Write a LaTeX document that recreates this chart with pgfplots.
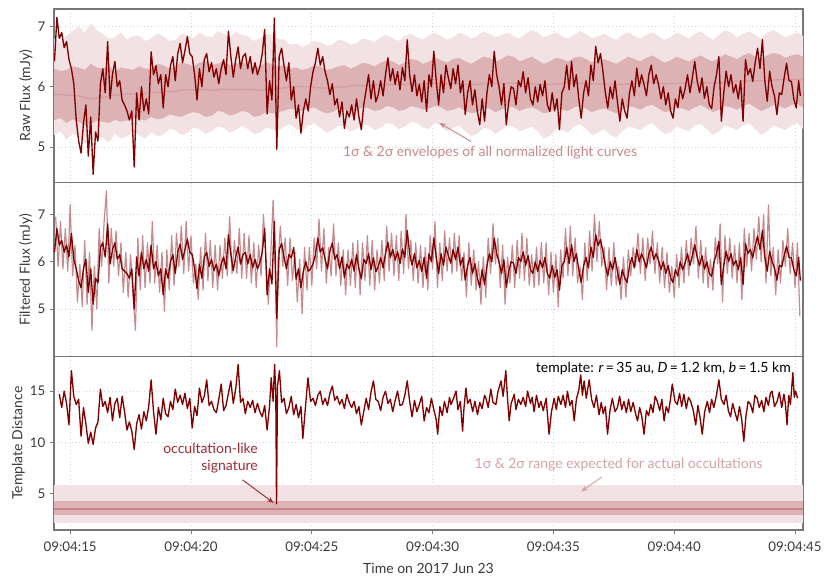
\documentclass[border=0pt]{standalone}
\usepackage{fontspec}
\setmainfont{Lato}
\usepackage{pgfplots}
\usepackage{pgfplotstable}
\pgfplotsset{compat=1.18}
\usepgfplotslibrary{fillbetween}
\usetikzlibrary{calc,arrows.meta}
\definecolor{darkred}{HTML}{800000}
\definecolor{envA}{HTML}{F2E2E3}
\definecolor{envB}{HTML}{DDB2B4}
\definecolor{envMid}{HTML}{D29FA2}
\definecolor{lightline}{HTML}{C48A8E}
\definecolor{annA}{HTML}{C9878B}
\definecolor{annB}{HTML}{D4A2A5}
\definecolor{annC}{HTML}{9E2A33}
\definecolor{axisgray}{HTML}{777777}
\definecolor{gridgray}{HTML}{D4D4D4}
\definecolor{labelgray}{HTML}{3A3A3A}

\pgfplotstableread{
t v
14.35 6.42
14.45 7.15
14.55 6.80
14.65 6.90
14.75 6.65
14.85 6.75
14.95 6.45
15.05 6.30
15.15 6.05
15.25 5.45
15.35 5.10
15.45 4.90
15.55 5.40
15.65 5.70
15.75 4.85
15.85 5.50
15.95 4.55
16.05 5.25
16.15 5.10
16.25 6.05
16.35 6.30
16.45 5.90
16.55 6.75
16.65 5.80
16.75 6.20
16.85 6.42
16.95 6.00
17.05 6.10
17.15 5.78
17.25 5.70
17.35 5.60
17.45 5.45
17.55 5.60
17.65 4.67
17.75 5.90
17.85 5.45
17.95 6.00
18.05 5.60
18.15 5.80
18.25 5.55
18.35 6.58
18.45 6.20
18.55 6.35
18.65 6.05
18.75 6.20
18.85 5.65
18.95 6.20
19.05 6.00
19.15 6.35
19.25 6.50
19.35 6.10
19.45 6.55
19.55 6.72
19.65 6.40
19.75 6.60
19.85 6.83
19.95 6.55
20.05 6.50
20.15 6.20
20.25 5.78
20.35 6.30
20.45 6.00
20.55 6.45
20.65 6.55
20.75 6.25
20.85 6.40
20.95 6.16
21.05 6.30
21.15 6.05
21.25 6.30
21.35 6.45
21.45 6.20
21.55 6.92
21.65 6.50
21.75 6.16
21.85 6.45
21.95 6.66
22.05 6.30
22.15 6.50
22.25 6.55
22.35 6.30
22.45 6.50
22.55 6.22
22.65 6.40
22.75 6.20
22.85 6.33
22.95 6.55
23.05 6.95
23.15 5.55
23.25 6.10
23.35 5.78
23.45 7.14
23.55 4.96
23.65 6.50
23.75 6.64
23.85 6.35
23.95 6.10
24.05 6.40
24.15 5.78
24.25 6.00
24.35 5.48
24.45 5.70
24.55 5.23
24.65 5.60
24.75 5.80
24.85 5.60
24.95 6.00
25.05 6.25
25.15 6.40
25.25 6.64
25.35 6.36
25.45 6.50
25.55 6.25
25.65 6.10
25.75 5.87
25.85 6.05
25.95 5.70
26.05 5.80
26.15 5.50
26.25 5.75
26.35 5.31
26.45 5.60
26.55 5.50
26.65 5.70
26.75 5.45
26.85 5.80
26.95 5.50
27.05 5.29
27.15 5.70
27.25 5.95
27.35 6.20
27.45 5.80
27.55 6.10
27.65 5.75
27.75 5.87
27.85 6.10
27.95 5.85
28.05 6.20
28.15 6.48
28.25 6.10
28.35 6.30
28.45 6.04
28.55 6.25
28.65 5.95
28.75 6.32
28.85 6.10
28.95 6.78
29.05 6.20
29.15 5.92
29.25 6.20
29.35 5.85
29.45 6.04
29.55 5.75
29.65 6.10
29.75 5.59
29.85 6.20
29.95 6.00
30.05 6.59
30.15 6.10
30.25 5.70
30.35 6.20
30.45 5.90
30.55 6.36
30.65 6.15
30.75 5.97
30.85 6.30
30.95 6.05
31.05 6.36
31.15 5.90
31.25 6.10
31.35 5.54
31.45 5.90
31.55 6.10
31.65 5.70
31.75 5.95
31.85 5.60
31.95 5.37
32.05 5.80
32.15 5.43
32.25 5.90
32.35 6.20
32.45 6.00
32.55 6.59
32.65 6.20
32.75 6.00
32.85 5.70
32.95 6.05
33.05 5.37
33.15 5.75
33.25 6.00
33.35 5.97
33.45 5.70
33.55 6.10
33.65 6.00
33.75 6.25
33.85 5.90
33.95 6.15
34.05 5.80
34.15 5.70
34.25 6.00
34.35 5.75
34.45 6.04
34.55 5.85
34.65 6.10
34.75 5.70
34.85 5.59
34.95 5.90
35.05 5.60
35.15 5.80
35.25 5.29
35.35 5.90
35.45 6.00
35.55 6.36
35.65 5.95
35.75 6.42
35.85 6.00
35.95 6.20
36.05 5.80
36.15 5.48
36.25 5.90
36.35 6.10
36.45 5.85
36.55 6.36
36.65 6.10
36.75 6.67
36.85 6.40
36.95 6.55
37.05 6.25
37.15 5.90
37.25 5.65
37.35 6.00
37.45 5.80
37.55 6.10
37.65 5.75
37.75 5.43
37.85 5.80
37.95 5.60
38.05 5.48
38.15 5.90
38.25 6.10
38.35 5.85
38.45 6.31
38.55 6.00
38.65 6.20
38.75 6.04
38.85 5.85
38.95 6.20
39.05 6.36
39.15 6.05
39.25 6.20
39.35 6.04
39.45 5.80
39.55 6.00
39.65 5.70
39.75 5.90
39.85 5.60
39.95 5.48
40.05 5.80
40.15 5.65
40.25 6.00
40.35 5.80
40.45 5.97
40.55 6.20
40.65 5.90
40.75 6.15
40.85 6.42
40.95 6.10
41.05 5.90
41.15 6.15
41.25 5.81
41.35 6.00
41.45 5.70
41.55 5.64
41.65 6.00
41.75 6.20
41.85 6.50
41.95 5.43
42.05 5.90
42.15 6.26
42.25 6.00
42.35 6.20
42.45 5.90
42.55 6.04
42.65 5.80
42.75 6.10
42.85 5.43
42.95 6.45
43.05 6.20
43.15 6.30
43.25 6.09
43.35 6.40
43.45 6.64
43.55 6.30
43.65 6.78
43.75 6.10
43.85 5.76
43.95 6.26
44.05 6.00
44.15 5.85
44.25 5.54
44.35 5.90
44.45 5.87
44.55 6.15
44.65 6.39
44.75 6.10
44.85 6.09
44.95 5.80
45.05 5.65
45.15 6.10
45.22 5.85
}\rawtbl

\pgfplotstableread{
t lo2 lo1 mid hi1 hi2
14.33 5.20 5.45 5.88 6.30 6.80
14.60 5.26 5.48 5.87 6.26 6.74
14.85 5.12 5.40 5.86 6.28 6.85
15.10 5.22 5.46 5.86 6.34 6.92
15.35 5.18 5.42 5.85 6.32 7.00
15.60 5.06 5.36 5.82 6.28 6.90
15.85 5.10 5.38 5.80 6.38 7.05
16.10 5.20 5.44 5.81 6.32 6.94
16.35 5.15 5.42 5.82 6.30 6.88
16.60 5.08 5.40 5.84 6.36 6.80
16.85 5.22 5.45 5.86 6.25 6.82
17.10 5.14 5.42 5.87 6.32 6.90
17.35 5.18 5.44 5.88 6.30 6.78
17.60 5.24 5.48 5.88 6.28 6.84
17.85 5.20 5.46 5.88 6.34 6.85
18.10 5.14 5.44 5.89 6.30 6.76
18.35 5.25 5.50 5.90 6.30 6.80
18.60 5.18 5.46 5.91 6.38 6.88
18.85 5.20 5.48 5.92 6.36 6.84
19.10 5.30 5.54 5.92 6.30 6.76
19.35 5.28 5.52 5.92 6.34 6.78
19.60 5.20 5.50 5.94 6.40 6.88
19.85 5.24 5.55 5.95 6.38 6.86
20.10 5.32 5.58 5.95 6.34 6.80
20.35 5.30 5.56 5.96 6.40 6.90
20.60 5.22 5.50 5.95 6.42 6.84
20.85 5.26 5.52 5.94 6.36 6.82
21.10 5.34 5.60 5.95 6.38 6.92
21.35 5.32 5.58 5.96 6.42 6.88
21.60 5.24 5.52 5.96 6.36 6.80
21.85 5.28 5.55 5.95 6.38 6.92
22.10 5.36 5.60 5.96 6.42 6.86
22.35 5.30 5.58 5.96 6.36 6.84
22.60 5.22 5.50 5.95 6.32 6.76
22.85 5.24 5.52 5.94 6.34 6.80
23.10 5.32 5.58 5.95 6.40 6.88
23.35 5.30 5.56 5.95 6.38 6.86
23.60 5.26 5.58 5.97 6.34 6.80
23.85 5.34 5.60 5.98 6.36 6.78
24.10 5.38 5.64 5.99 6.30 6.70
24.35 5.30 5.62 6.00 6.32 6.72
24.60 5.26 5.60 6.00 6.28 6.66
24.85 5.36 5.64 6.00 6.30 6.70
25.10 5.40 5.66 5.99 6.36 6.76
25.35 5.32 5.60 5.98 6.34 6.74
25.60 5.24 5.56 5.98 6.28 6.68
25.85 5.28 5.58 5.98 6.30 6.70
26.10 5.36 5.64 5.99 6.34 6.78
26.35 5.34 5.62 6.00 6.36 6.76
26.60 5.26 5.58 6.01 6.30 6.70
26.85 5.30 5.60 6.02 6.34 6.72
27.10 5.38 5.66 6.02 6.40 6.80
27.35 5.36 5.64 6.02 6.38 6.78
27.60 5.28 5.60 6.03 6.34 6.74
27.85 5.32 5.62 6.04 6.40 6.82
28.10 5.40 5.68 6.04 6.44 6.86
28.35 5.38 5.66 6.04 6.42 6.80
28.60 5.30 5.60 6.04 6.36 6.76
28.85 5.34 5.62 6.04 6.40 6.84
29.10 5.42 5.68 6.05 6.46 6.88
29.35 5.40 5.66 6.06 6.44 6.82
29.60 5.32 5.62 6.05 6.38 6.78
29.85 5.30 5.64 6.05 6.42 6.86
30.10 5.40 5.68 6.06 6.48 6.90
30.35 5.36 5.66 6.06 6.44 6.84
30.60 5.26 5.60 6.05 6.40 6.78
30.85 5.32 5.62 6.05 6.46 6.82
31.10 5.36 5.66 6.05 6.48 6.90
31.35 5.26 5.60 6.04 6.42 6.86
31.60 5.18 5.56 6.04 6.38 6.80
31.85 5.22 5.58 6.04 6.44 6.84
32.10 5.32 5.64 6.05 6.50 6.92
32.35 5.30 5.64 6.06 6.48 6.88
32.60 5.22 5.58 6.05 6.42 6.82
32.85 5.28 5.62 6.05 6.46 6.86
33.10 5.36 5.68 6.06 6.52 6.90
33.35 5.34 5.66 6.06 6.50 6.84
33.60 5.26 5.60 6.06 6.42 6.80
33.85 5.30 5.64 6.06 6.46 6.88
34.10 5.34 5.66 6.05 6.50 6.94
34.35 5.26 5.62 6.04 6.44 6.90
34.60 5.14 5.56 6.04 6.38 6.82
34.85 5.18 5.58 6.04 6.42 6.86
35.10 5.30 5.64 6.05 6.48 6.90
35.35 5.28 5.62 6.05 6.46 6.84
35.60 5.24 5.60 6.06 6.42 6.80
35.85 5.34 5.66 6.06 6.48 6.86
36.10 5.38 5.68 6.06 6.50 6.92
36.35 5.30 5.64 6.05 6.46 6.88
36.60 5.20 5.58 6.05 6.40 6.80
36.85 5.24 5.62 6.05 6.44 6.84
37.10 5.30 5.64 6.04 6.46 6.88
37.35 5.20 5.60 6.04 6.42 6.82
37.60 5.16 5.56 6.04 6.38 6.78
37.85 5.26 5.62 6.04 6.44 6.86
38.10 5.34 5.68 6.05 6.50 6.90
38.35 5.32 5.66 6.06 6.46 6.84
38.60 5.28 5.62 6.06 6.42 6.80
38.85 5.36 5.68 6.07 6.48 6.86
39.10 5.40 5.70 6.07 6.52 6.90
39.35 5.30 5.64 6.06 6.46 6.84
39.60 5.22 5.58 6.05 6.40 6.78
39.85 5.24 5.60 6.05 6.44 6.82
40.10 5.34 5.66 6.06 6.50 6.90
40.35 5.30 5.64 6.06 6.46 6.86
40.60 5.26 5.60 6.06 6.42 6.80
40.85 5.36 5.66 6.07 6.48 6.88
41.10 5.38 5.70 6.07 6.52 6.92
41.35 5.30 5.64 6.06 6.46 6.84
41.60 5.20 5.58 6.06 6.42 6.78
41.85 5.26 5.62 6.06 6.48 6.86
42.10 5.36 5.68 6.07 6.54 6.94
42.35 5.32 5.66 6.08 6.50 6.90
42.60 5.28 5.62 6.09 6.46 6.82
42.85 5.36 5.68 6.10 6.52 6.88
43.10 5.40 5.72 6.10 6.56 6.92
43.35 5.30 5.66 6.10 6.50 6.86
43.60 5.20 5.60 6.10 6.46 6.80
43.85 5.26 5.64 6.10 6.52 6.90
44.10 5.36 5.70 6.11 6.56 6.94
44.35 5.32 5.68 6.12 6.54 6.88
44.60 5.28 5.64 6.12 6.48 6.82
44.85 5.36 5.70 6.12 6.52 6.86
45.10 5.40 5.72 6.12 6.54 6.90
45.33 5.30 5.66 6.12 6.50 6.84
}\envtbl

\pgfplotstableread{
t v
14.35 6.20
14.45 6.70
14.55 6.35
14.65 6.45
14.75 6.20
14.85 6.35
14.95 6.10
15.05 6.60
15.15 6.05
15.25 5.85
15.35 5.60
15.45 5.45
15.55 5.85
15.65 6.05
15.75 5.35
15.85 5.85
15.95 5.10
16.05 5.65
16.15 5.55
16.25 6.30
16.35 6.40
16.45 6.10
16.55 6.80
16.65 5.95
16.75 6.25
16.85 6.40
16.95 6.05
17.05 6.15
17.15 5.85
17.25 5.80
17.35 5.75
17.45 5.65
17.55 5.85
17.65 5.00
17.75 6.10
17.85 5.70
17.95 6.20
18.05 5.85
18.15 6.05
18.25 5.80
18.35 6.35
18.45 5.85
18.55 6.00
18.65 5.70
18.75 5.85
18.85 5.30
18.95 5.85
19.05 5.65
19.15 6.00
19.25 6.15
19.35 5.75
19.45 6.20
19.55 6.37
19.65 6.05
19.75 6.25
19.85 6.48
19.95 6.20
20.05 6.15
20.15 5.85
20.25 5.43
20.35 5.95
20.45 5.65
20.55 6.10
20.65 6.20
20.75 5.90
20.85 6.05
20.95 5.81
21.05 5.95
21.15 5.70
21.25 5.95
21.35 6.10
21.45 5.85
21.55 6.57
21.65 6.15
21.75 5.81
21.85 6.10
21.95 6.31
22.05 5.95
22.15 6.15
22.25 6.20
22.35 5.95
22.45 6.15
22.55 5.87
22.65 6.05
22.75 5.85
22.85 5.98
22.95 6.20
23.05 6.70
23.15 5.30
23.25 5.85
23.35 5.53
23.45 6.85
23.55 4.80
23.65 6.25
23.75 6.39
23.85 6.10
23.95 5.85
24.05 6.15
24.15 6.08
24.25 6.30
24.35 5.63
24.45 5.85
24.55 5.45
24.65 5.80
24.75 6.00
24.85 5.80
24.95 5.85
25.05 5.95
25.15 6.15
25.25 6.50
25.35 6.20
25.45 6.30
25.55 6.05
25.65 5.85
25.75 6.22
25.85 6.40
25.95 6.05
26.05 6.15
26.15 5.85
26.25 6.10
26.35 5.66
26.45 5.95
26.55 5.85
26.65 6.05
26.75 5.80
26.85 6.15
26.95 5.85
27.05 5.64
27.15 6.05
27.25 5.96
27.35 6.17
27.45 5.83
27.55 6.09
27.65 5.79
27.75 5.89
27.85 6.09
27.95 5.87
28.05 6.17
28.15 6.41
28.25 6.09
28.35 6.26
28.45 6.03
28.55 6.21
28.65 5.96
28.75 6.27
28.85 6.09
28.95 6.66
29.05 6.17
29.15 5.93
29.25 6.17
29.35 5.87
29.45 6.03
29.55 5.79
29.65 6.09
29.75 5.65
29.85 6.17
29.95 6.00
30.05 6.50
30.15 6.09
30.25 5.75
30.35 6.17
30.45 5.92
30.55 6.31
30.65 6.13
30.75 5.97
30.85 6.26
30.95 6.04
31.05 6.31
31.15 5.92
31.25 6.09
31.35 5.61
31.45 5.92
31.55 6.09
31.65 5.75
31.75 5.96
31.85 5.66
31.95 5.46
32.05 5.83
32.15 5.52
32.25 5.92
32.35 6.17
32.45 6.00
32.55 6.50
32.65 6.17
32.75 6.00
32.85 5.75
32.95 6.04
33.05 5.46
33.15 5.79
33.25 6.00
33.35 5.97
33.45 5.75
33.55 6.09
33.65 6.00
33.75 6.21
33.85 5.92
33.95 6.13
34.05 5.83
34.15 5.75
34.25 6.00
34.35 5.79
34.45 6.03
34.55 5.87
34.65 6.09
34.75 5.75
34.85 5.65
34.95 5.92
35.05 5.66
35.15 5.83
35.25 5.40
35.35 5.92
35.45 6.00
35.55 6.31
35.65 5.96
35.75 6.36
35.85 6.00
35.95 6.17
36.05 5.83
36.15 5.56
36.25 5.92
36.35 6.09
36.45 5.87
36.55 6.31
36.65 6.09
36.75 6.57
36.85 6.34
36.95 6.47
37.05 6.21
37.15 5.92
37.25 5.70
37.35 6.00
37.45 5.83
37.55 6.09
37.65 5.79
37.75 5.52
37.85 5.83
37.95 5.66
38.05 5.56
38.15 5.92
38.25 6.09
38.35 5.87
38.45 6.26
38.55 6.00
38.65 6.17
38.75 6.03
38.85 5.87
38.95 6.17
39.05 6.31
39.15 6.04
39.25 6.17
39.35 6.03
39.45 5.83
39.55 6.00
39.65 5.75
39.75 5.92
39.85 5.66
39.95 5.56
40.05 5.83
40.15 5.70
40.25 6.00
40.35 5.83
40.45 5.97
40.55 6.17
40.65 5.92
40.75 6.13
40.85 6.36
40.95 6.09
41.05 5.92
41.15 6.13
41.25 5.84
41.35 6.00
41.45 5.75
41.55 5.69
41.65 6.00
41.75 6.17
41.85 6.43
41.95 5.52
42.05 5.92
42.15 6.22
42.25 6.00
42.35 6.17
42.45 5.92
42.55 6.03
42.65 5.83
42.75 6.09
42.85 5.52
42.95 6.38
43.05 6.17
43.15 6.26
43.25 6.08
43.35 6.34
43.45 6.54
43.55 6.26
43.65 6.66
43.75 6.09
43.85 5.80
43.95 6.22
44.05 6.00
44.15 5.87
44.25 5.61
44.35 5.92
44.45 5.89
44.55 6.13
44.65 6.33
44.75 6.09
44.85 6.08
44.95 5.83
45.05 5.70
45.15 6.09
45.22 5.60
}\filtbl

\pgfplotstableread{
t v
14.40 6.95
14.50 5.90
14.60 6.85
14.70 5.85
14.80 6.70
14.90 5.80
15.00 7.20
15.10 5.70
15.20 6.35
15.30 5.15
15.40 5.95
15.50 5.05
15.60 6.45
15.70 5.10
15.80 6.20
15.90 4.55
16.00 5.90
16.10 5.00
16.20 6.70
16.30 5.90
16.40 6.80
16.50 7.50
16.60 5.55
16.70 6.70
16.80 5.90
16.90 6.65
17.00 5.70
17.10 6.40
17.20 5.35
17.30 6.20
17.40 5.25
17.50 6.15
17.60 5.30
17.70 4.55
17.80 6.50
17.90 5.40
18.00 6.55
18.10 5.45
18.20 6.40
18.30 5.55
18.40 6.85
18.50 5.55
18.60 6.35
18.70 5.35
18.80 6.20
18.90 4.95
19.00 6.25
19.10 5.40
19.20 6.55
19.30 5.50
19.40 6.60
19.50 5.90
19.60 6.75
19.70 5.75
19.80 6.85
19.90 5.80
20.00 6.55
20.10 5.55
20.20 5.95
20.30 5.20
20.40 6.30
20.50 5.40
20.60 6.60
20.70 5.60
20.80 6.45
20.90 5.45
21.00 6.35
21.10 5.40
21.20 6.35
21.30 5.65
21.40 6.50
21.50 5.70
21.60 6.95
21.70 5.75
21.80 6.45
21.90 5.75
22.00 6.70
22.10 5.65
22.20 6.60
22.30 5.65
22.40 6.55
22.50 5.55
22.60 6.40
22.70 5.45
22.80 6.35
22.90 5.70
23.00 7.00
23.10 6.10
23.20 5.10
23.30 6.15
23.40 7.30
23.50 5.50
23.55 4.20
23.60 6.00
23.70 6.75
23.80 5.90
23.90 6.50
24.00 5.50
24.10 6.50
24.20 5.60
24.30 6.20
24.40 5.15
24.50 6.05
24.60 4.90
24.70 6.30
24.80 5.40
24.90 6.30
25.00 5.50
25.10 6.50
25.20 5.85
25.30 6.90
25.40 5.80
25.50 6.70
25.60 5.55
25.70 6.30
25.80 5.70
25.90 6.80
26.00 5.70
26.10 6.40
26.20 5.50
26.30 6.25
26.40 5.30
26.50 6.25
26.60 5.50
26.70 6.40
26.80 5.45
26.90 6.45
27.00 5.30
27.10 6.40
27.20 5.60
27.30 6.55
27.40 5.50
27.50 6.45
27.60 5.40
27.70 6.25
27.80 5.55
27.90 6.45
28.00 5.60
28.10 6.75
28.20 5.80
28.30 6.60
28.40 5.70
28.50 6.55
28.60 5.60
28.70 6.65
28.80 5.75
28.90 7.00
29.00 5.85
29.10 6.45
29.20 5.60
29.30 6.40
29.40 5.55
29.50 6.35
29.60 5.45
29.70 6.30
29.80 5.40
29.90 6.55
30.00 5.85
30.10 6.85
30.20 5.45
30.30 6.40
30.40 5.60
30.50 6.65
30.60 5.80
30.70 6.50
30.80 5.75
30.90 6.60
31.00 5.80
31.10 6.55
31.20 5.60
31.30 6.20
31.40 5.25
31.50 6.40
31.60 5.50
31.70 6.25
31.80 5.40
31.90 6.00
32.00 5.10
32.10 6.10
32.20 5.25
32.30 6.50
32.40 5.75
32.50 6.80
32.60 5.95
32.70 6.50
32.80 5.45
32.90 6.35
33.00 5.10
33.10 6.10
33.20 5.55
33.30 6.35
33.40 5.45
33.50 6.45
33.60 5.65
33.70 6.60
33.80 5.60
33.90 6.50
34.00 5.50
34.10 6.15
34.20 5.45
34.30 6.30
34.40 5.50
34.50 6.40
34.60 5.55
34.70 6.40
34.80 5.30
34.90 6.20
35.00 5.35
35.10 6.15
35.20 5.05
35.30 6.25
35.40 5.65
35.50 6.70
35.60 5.70
35.70 6.75
35.80 5.70
35.90 6.50
36.00 5.55
36.10 5.90
36.20 5.20
36.30 6.40
36.40 5.60
36.50 6.65
36.60 5.80
36.70 7.00
36.80 6.00
36.90 6.85
37.00 5.90
37.10 6.30
37.20 5.40
37.30 6.30
37.40 5.50
37.50 6.40
37.60 5.50
37.70 5.90
37.80 5.20
37.90 6.10
38.00 5.25
38.10 6.25
38.20 5.70
38.30 6.30
38.40 5.90
38.50 6.60
38.60 5.75
38.70 6.50
38.80 5.60
38.90 6.50
39.00 5.95
39.10 6.65
39.20 5.75
39.30 6.40
39.40 5.55
39.50 6.30
39.60 5.45
39.70 6.20
39.80 5.35
39.90 5.90
40.00 5.25
40.10 6.15
40.20 5.45
40.30 6.30
40.40 5.55
40.50 6.45
40.60 5.70
40.70 6.50
40.80 5.95
40.90 6.75
41.00 5.65
41.10 6.45
41.20 5.55
41.30 6.30
41.40 5.45
41.50 6.05
41.60 5.40
41.70 6.50
41.80 5.95
41.90 6.80
42.00 5.15
42.10 6.55
42.20 5.75
42.30 6.50
42.40 5.65
42.50 6.35
42.60 5.55
42.70 6.40
42.80 5.20
42.90 6.70
43.00 5.90
43.10 6.60
43.20 5.80
43.30 6.70
43.40 6.05
43.50 6.95
43.60 6.00
43.70 7.00
43.80 5.55
43.90 7.20
44.00 5.70
44.10 6.30
44.20 5.30
44.30 6.25
44.40 5.55
44.50 6.45
44.60 5.90
44.70 6.70
44.80 5.75
44.90 6.40
45.00 5.45
45.10 6.40
45.20 4.85
}\filltbl

\pgfplotstableread{
t v
14.55 14.7
14.65 13.4
14.75 15.0
14.85 13.8
14.95 11.7
15.05 17.0
15.15 14.5
15.25 13.7
15.35 14.2
15.45 10.6
15.55 13.4
15.65 11.8
15.75 9.9
15.85 11.0
15.95 9.8
16.05 11.4
16.15 12.0
16.25 15.2
16.35 13.5
16.45 14.0
16.55 12.9
16.65 14.4
16.75 12.1
16.85 13.8
16.95 14.3
17.05 12.4
17.15 14.5
17.25 13.0
17.35 11.2
17.45 12.0
17.55 11.1
17.65 9.3
17.75 11.8
17.85 12.7
17.95 11.3
18.05 13.0
18.15 12.1
18.25 13.5
18.35 16.1
18.45 13.0
18.55 10.8
18.65 13.4
18.75 12.2
18.85 14.3
18.95 12.8
19.05 12.5
19.15 14.0
19.25 13.2
19.35 15.2
19.45 13.9
19.55 14.6
19.65 13.7
19.75 14.8
19.85 13.3
19.95 14.3
20.05 11.4
20.15 13.5
20.25 12.6
20.35 15.3
20.45 13.9
20.55 14.5
20.65 16.1
20.75 13.6
20.85 14.0
20.95 13.2
21.05 12.9
21.15 14.2
21.25 15.7
21.35 13.1
21.45 13.6
21.55 14.8
21.65 16.0
21.75 13.8
21.85 15.2
21.95 17.6
22.05 13.9
22.15 14.3
22.25 12.8
22.35 14.0
22.45 13.4
22.55 14.1
22.65 12.9
22.75 13.8
22.85 13.0
22.95 12.5
23.05 13.6
23.15 11.2
23.25 13.5
23.32 16.3
23.40 14.0
23.46 17.6
23.51 14.8
23.54 4.0
23.58 15.5
23.66 17.0
23.75 13.9
23.85 14.3
23.95 12.8
24.05 13.4
24.15 14.5
24.25 12.7
24.35 13.7
24.45 12.4
24.55 13.5
24.63 10.4
24.75 13.8
24.84 16.3
24.95 14.0
25.05 14.3
25.15 13.6
25.25 14.6
25.35 15.0
25.45 13.7
25.55 14.3
25.65 13.6
25.75 14.8
25.85 15.5
25.95 14.1
26.05 14.5
26.15 13.7
26.25 14.2
26.35 13.3
26.45 14.7
26.55 13.9
26.65 13.4
26.75 14.0
26.85 12.8
26.95 13.5
27.05 11.7
27.15 13.0
27.25 14.3
27.35 13.2
27.45 14.9
27.55 16.0
27.65 14.2
27.75 14.0
27.85 13.1
27.95 14.4
28.05 15.0
28.15 13.8
28.25 14.2
28.35 13.0
28.45 14.1
28.55 15.0
28.65 13.6
28.75 13.7
28.85 14.6
28.95 16.0
29.05 14.0
29.15 12.5
29.25 14.1
29.35 13.0
29.45 13.7
29.55 14.5
29.65 12.1
29.75 13.4
29.85 12.9
29.95 14.3
30.05 13.2
30.15 12.2
30.21 10.8
30.30 13.5
30.40 12.6
30.49 14.0
30.60 12.9
30.70 14.4
30.76 13.7
30.85 14.2
30.97 15.0
31.05 13.2
31.15 14.0
31.24 11.1
31.30 13.4
31.38 15.3
31.45 13.8
31.55 14.2
31.66 13.0
31.75 14.0
31.86 12.7
31.95 13.9
32.05 13.3
32.15 14.6
32.21 14.3
32.30 13.4
32.41 15.2
32.50 13.9
32.62 13.7
32.70 14.9
32.83 16.0
32.92 14.5
33.03 17.0
33.10 14.3
33.17 12.1
33.25 13.8
33.38 14.7
33.45 13.2
33.55 14.2
33.65 13.7
33.75 14.4
33.85 13.5
33.93 15.0
34.05 13.8
34.12 14.4
34.20 13.0
34.30 14.6
34.40 13.4
34.48 14.0
34.58 13.1
34.70 14.3
34.82 10.8
34.92 13.0
35.03 14.3
35.12 13.2
35.20 14.5
35.31 13.7
35.40 14.6
35.50 13.4
35.58 15.0
35.68 13.6
35.77 14.1
35.86 12.1
35.95 14.2
36.05 15.1
36.13 16.6
36.20 14.6
36.27 16.0
36.36 14.3
36.48 16.1
36.58 14.2
36.68 13.4
36.78 14.6
36.89 12.7
36.98 13.9
37.06 12.8
37.15 13.5
37.24 10.8
37.34 13.1
37.44 14.3
37.55 13.0
37.65 13.4
37.74 14.5
37.83 13.2
37.92 14.0
38.02 12.9
38.11 14.2
38.20 13.0
38.30 13.9
38.40 12.8
38.48 12.1
38.57 13.4
38.66 12.5
38.75 10.8
38.85 13.1
38.94 12.6
39.03 13.7
39.12 12.9
39.21 14.5
39.30 14.0
39.40 13.1
39.49 14.2
39.58 12.1
39.67 13.5
39.76 12.9
39.85 14.3
39.92 15.7
40.03 14.0
40.13 13.7
40.22 14.8
40.31 13.5
40.40 14.7
40.50 13.3
40.59 14.4
40.68 14.0
40.78 13.2
40.89 11.7
40.98 13.6
41.07 12.4
41.16 10.8
41.26 13.0
41.37 14.0
41.46 12.9
41.55 14.2
41.64 13.4
41.74 14.5
41.85 16.1
41.95 14.2
42.06 13.7
42.15 14.6
42.24 13.1
42.33 12.5
42.42 13.8
42.52 12.9
42.61 12.1
42.70 13.5
42.79 12.3
42.88 10.1
42.97 12.6
43.06 14.0
43.16 13.7
43.25 12.9
43.34 14.6
43.43 14.3
43.52 13.4
43.62 14.1
43.71 13.0
43.80 14.4
43.90 13.6
43.98 14.8
44.05 15.0
44.15 13.5
44.26 14.0
44.35 14.9
44.45 13.4
44.54 14.7
44.60 13.8
44.67 11.7
44.74 14.6
44.81 13.7
44.91 16.8
44.97 14.4
45.02 15.0
45.11 14.3
}\temtbl

\pgfplotsset{
  panel/.style={
    width=561.75pt, height=130.25pt, scale only axis,
    xmin=14.33, xmax=45.33,
    axis line style={draw=axisgray, line width=0.8pt},
    xmajorgrids=true, ymajorgrids=true,
    xminorgrids=false, yminorgrids=false, minor tick num=0,
    grid style={gridgray, line width=0.7pt, dash pattern=on 0.7pt off 2pt},
    xtick={15,20,25,30,35,40,45},
    tick align=outside, xtick pos=bottom, ytick pos=left,
    major tick length=3pt,
    tick style={axisgray, line width=0.6pt},
    tick label style={font=\fontsize{10}{12}\selectfont, text=labelgray},
    ylabel style={font=\fontsize{10.5}{12}\selectfont, text=labelgray, yshift=-3pt},
    xlabel style={font=\fontsize{10.5}{12}\selectfont, text=labelgray, yshift=-2pt},
    xticklabel style={yshift=-2pt},
    /pgf/number format/assume math mode=true,
    clip=true,
  },
  dataline/.style={darkred, line width=1pt, line join=round},
}

\begin{document}
\begin{tikzpicture}
% ---------- Panel 1 ----------
\begin{axis}[panel, name=ax1, at={(0,0)},
  ymin=4.41, ymax=7.29, ytick={5,6,7},
  xticklabels={}, xtick style={draw=none},
  ylabel={Raw Flux (mJy)}]
  \addplot[draw=none, name path=h2, forget plot] table[x=t,y=hi2]{\envtbl};
  \addplot[draw=none, name path=l2, forget plot] table[x=t,y=lo2]{\envtbl};
  \addplot[draw=none, name path=h1, forget plot] table[x=t,y=hi1]{\envtbl};
  \addplot[draw=none, name path=l1, forget plot] table[x=t,y=lo1]{\envtbl};
  \addplot[fill=envA, draw=none] fill between[of=h2 and l2];
  \addplot[fill=envB, draw=none] fill between[of=h1 and l1];
  \addplot[envMid, line width=1pt] table[x=t,y=mid]{\envtbl};
  \addplot[dataline] table[x=t,y=v]{\rawtbl};
  \draw[annA, line width=0.7pt, -{Stealth[length=5pt,width=4pt]}] (axis cs:31.6,5.09) -- (axis cs:30.28,5.40);
  \node[annA, font=\fontsize{10.5}{12}\selectfont] at (axis cs:32.38,4.91) {1σ \& 2σ envelopes of all normalized light curves};
\end{axis}
% ---------- Panel 2 ----------
\begin{axis}[panel, name=ax2, at={(ax1.south west)}, anchor=north west,
  ymin=4.0, ymax=7.67, ytick={5,6,7},
  xticklabels={}, xtick style={draw=none},
  ylabel={Filtered Flux (mJy)}]
  \addplot[lightline, line width=0.9pt, line join=round] table[x=t,y=v]{\filltbl};
  \addplot[dataline] table[x=t,y=v]{\filtbl};
\end{axis}
% ---------- Panel 3 ----------
\begin{axis}[panel, name=ax3, at={(ax2.south west)}, anchor=north west,
  ymin=1.44, ymax=18.4, ytick={5,10,15},
  xticklabels={09:04:15,09:04:20,09:04:25,09:04:30,09:04:35,09:04:40,09:04:45},
  xlabel={Time on 2017 Jun 23},
  ylabel={Template Distance}]
  \addplot[fill=envA, draw=none] coordinates {(14.33,2.16) (45.33,2.16) (45.33,5.86) (14.33,5.86)} --cycle;
  \addplot[fill=envB, draw=none] coordinates {(14.33,2.90) (45.33,2.90) (45.33,4.24) (14.33,4.24)} --cycle;
  \addplot[envMid!85!darkred, line width=0.9pt] coordinates {(14.33,3.5) (45.33,3.5)};
  \addplot[dataline] table[x=t,y=v]{\temtbl};
  \node[anchor=east, text=black, font=\fontsize{10.5}{12}\selectfont] at (rel axis cs:0.99,0.93) {template: \textit{r}\,=\,35 au, \textit{D}\,=\,1.2 km, \textit{b}\,=\,1.5 km};
  \node[anchor=east, align=right, text=annC, font=\fontsize{10.5}{12.5}\selectfont] at (axis cs:22.96,8.45) {occultation-like\\signature};
  \draw[annC, line width=0.7pt, -{Stealth[length=5pt,width=4pt]}] (axis cs:22.13,6.34) -- (axis cs:23.42,4.09);
  \node[text=annB, font=\fontsize{10.5}{12}\selectfont] at (axis cs:37.7,7.81) {1σ \& 2σ range expected for actual occultations};
  \draw[annB, line width=0.7pt, -{Stealth[length=5pt,width=4pt]}] (axis cs:37.0,6.62) -- (axis cs:36.15,5.2);
\end{axis}
\pgfresetboundingbox
\path[use as bounding box] ($(ax3.south west)+(-40.5pt,-41.25pt)$) rectangle ($(ax1.north east)+(21pt,6.75pt)$);
\end{tikzpicture}
\end{document}
